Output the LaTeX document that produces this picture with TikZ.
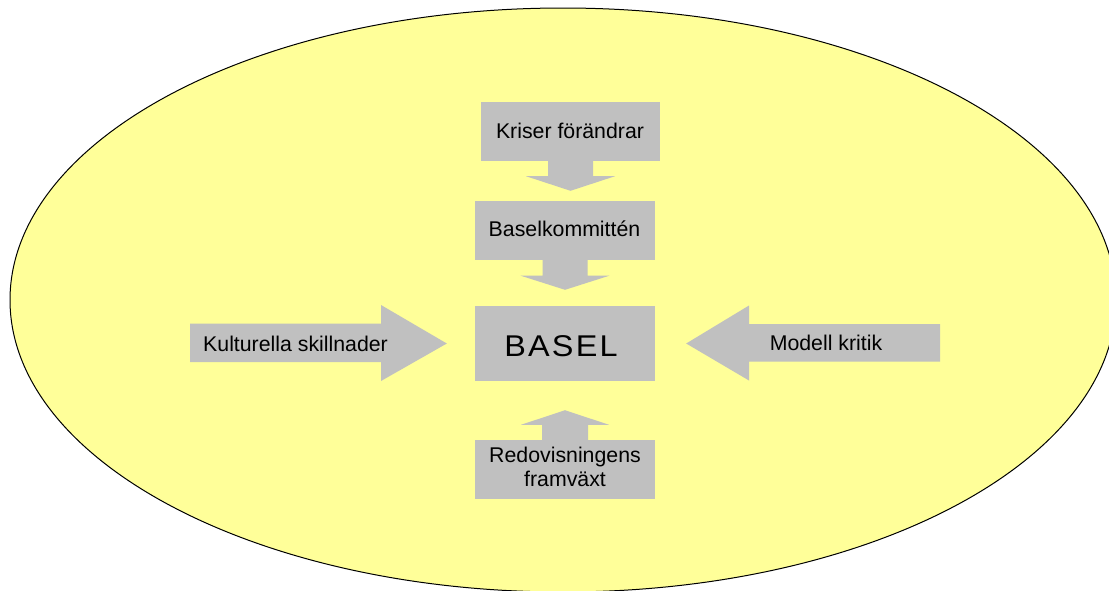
\documentclass[tikz,border=0pt]{standalone}
\usepackage{graphicx}
\usepackage{fontspec}
\setmainfont{Liberation Sans}
\usetikzlibrary{calc}
\definecolor{bgyellow}{HTML}{FFFF99}
\definecolor{boxgray}{HTML}{C0C0C0}
\begin{document}
\begin{tikzpicture}[x=1pt,y=-1pt,
  box/.style={fill=boxgray, draw=none, inner sep=0pt, minimum width=180pt, minimum height=59pt},
  blockarrow/.style={fill=boxgray, draw=none},
  lbl/.style={inner sep=0pt, font=\fontsize{21.3}{23.5}\selectfont}]
\useasboundingbox (0,0) rectangle (1109,590);
\clip (0,0) rectangle (1109,590);
\fill[white] (0,0) rectangle (1109,590);
\draw[fill=bgyellow, line width=1pt] (563,300) ellipse [x radius=553pt, y radius=292pt];

% boxes
\node[box, minimum width=179pt] (kriser) at (570.5,131.5) {};
\node[box] (komm) at (565,230.5) {};
\node[box, minimum height=75pt] (basel) at (565,343.5) {};
\node[box] (redov) at (565,469.5) {};

% vertical block arrows
\fill[blockarrow] ($(kriser.south)+(-22.5,0)$) -- ($(kriser.south)+(-22.5,15)$) -- ($(kriser.south)+(-44.5,15)$)
  -- ($(kriser.south |- komm.north)+(0,-10)$) -- ($(kriser.south)+(44.5,15)$) -- ($(kriser.south)+(22.5,15)$)
  -- ($(kriser.south)+(22.5,0)$) -- cycle;
\fill[blockarrow] ($(komm.south)+(-22.5,0)$) -- ($(komm.south)+(-22.5,15.5)$) -- ($(komm.south)+(-44.3,15.5)$)
  -- ($(basel.north)+(0,-16)$) -- ($(komm.south)+(44.3,15.5)$) -- ($(komm.south)+(22.5,15.5)$)
  -- ($(komm.south)+(22.5,0)$) -- cycle;
\fill[blockarrow] ($(redov.north)+(-23,0)$) -- ($(redov.north)+(-23,-15)$) -- ($(redov.north)+(-44,-15)$)
  -- ($(basel.south)+(0,29)$) -- ($(redov.north)+(44,-15)$) -- ($(redov.north)+(23,-15)$)
  -- ($(redov.north)+(23,0)$) -- cycle;

% horizontal block arrows
\coordinate (kulttail) at (190,342.7);
\coordinate (modtail) at (940,342.7);
\fill[blockarrow] ($(kulttail)+(0,-19.2)$) -- (381,323.5) -- (381,305) -- ($(basel.west)+(-28,0)$)
  -- (381,381) -- (381,362) -- ($(kulttail)+(0,19.3)$) -- cycle;
\fill[blockarrow] ($(modtail)+(0,-18.7)$) -- (749,324) -- (749,305.5) -- ($(basel.east)+(31,0)$)
  -- (749,380.5) -- (749,361.5) -- ($(modtail)+(0,18.8)$) -- cycle;

% texts
\node[lbl, anchor=base] (kritxt) at (570,138.3) {Kriser förändrar};
\node[lbl, anchor=base] (kommtxt) at (564.5,236.7) {Baselkommittén};
\node[lbl, anchor=base west] (kulttxt) at (203,351) {Kulturella skillnader};
\node[lbl, anchor=base] (modtxt) at (826,350.7) {Modell kritik};
\node[lbl, anchor=base, font=\fontsize{30}{32}\selectfont] (baseltxt) at (561,356.7) {\scalebox{1.08}[1]{B\kern2pt A\kern2pt S\kern2pt E\kern2pt L}};
\node[lbl, anchor=north, align=center] (redovtxt) at (565,447.2) {Redovisningens\\framväxt};
\end{tikzpicture}
\end{document}
